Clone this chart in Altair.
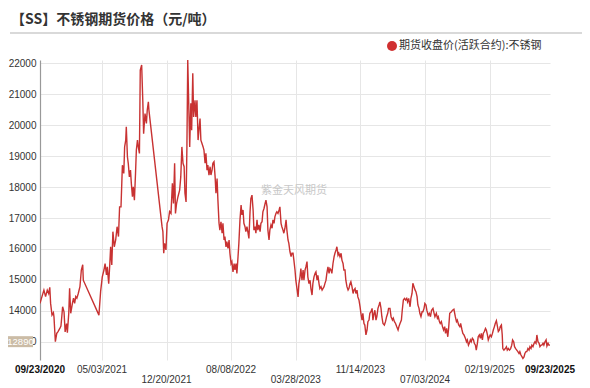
import altair as alt
import pandas as pd

# ---------------- data ----------------
start_date = "2020-09-23"

day_offsets = [
    0, 7, 14, 20, 26, 31, 35, 38, 43, 48, 50, 55, 60, 64, 71, 75, 78, 81, 86, 90,
    95, 98, 103, 106, 110, 116, 120, 124, 128, 132, 137, 143, 148, 153, 155,
    211, 217, 223, 229, 233, 238, 241, 246, 250, 253, 257, 261, 266, 271, 276,
    281, 285, 290, 295, 300, 303, 307, 309, 313, 316, 320, 324, 327, 331, 334,
    338, 342, 345, 349, 352, 356, 359, 364, 368, 371, 376, 381, 384, 388, 390,
    437, 440, 443, 446, 451, 455, 460, 464, 469, 474, 478, 482, 485, 489, 494,
    500, 504, 508, 512, 516, 519, 523, 526, 529,
    536, 540, 543, 547, 550, 555, 558, 562, 566, 569,
    573, 576, 580, 584, 587, 591, 594, 598, 601, 605,
    609, 612, 616, 619, 623, 627, 630, 634, 637, 641,
    644, 648, 652, 655, 659, 662, 666, 669, 673, 677,
    680, 684, 687, 691, 695, 698, 702, 705, 709, 712,
    716, 720, 723, 727, 730, 734, 737, 741, 745, 748,
    752, 755, 759, 763, 766, 770, 773, 777, 780, 784,
    788, 791, 795, 798, 802, 806, 809, 813, 816, 820,
    823, 827, 831, 834, 838, 841, 845, 848, 852, 856,
    859, 863, 866, 870, 873, 877, 881, 884, 888, 891,
    895, 899, 902, 906, 909, 913, 916, 920, 924, 927,
    931, 934, 938, 942, 945, 949, 952, 956, 959, 963,
    967, 970, 974, 977, 981, 985, 988, 992, 995, 999,
    1002, 1006, 1010, 1013, 1017, 1020, 1024, 1027, 1031, 1035,
    1038, 1042, 1045, 1049, 1053, 1056, 1060, 1063, 1067, 1070,
    1074, 1078, 1081, 1085, 1088, 1092, 1095, 1099, 1103, 1106,
    1110, 1113, 1117, 1121, 1124, 1128, 1131, 1135, 1138, 1142,
    1146, 1149, 1153, 1156, 1160, 1163, 1167, 1171, 1174, 1178,
    1181,
    1185, 1189, 1192, 1196, 1199, 1203, 1206, 1210, 1214, 1217,
    1221, 1224, 1228, 1233, 1237, 1241, 1245, 1248, 1253, 1257,
    1262, 1265, 1269, 1273, 1277, 1282, 1285, 1289, 1294, 1297,
    1301, 1305, 1309, 1313, 1316, 1320, 1325, 1328, 1332, 1335,
    1339, 1343, 1346, 1350, 1353, 1357, 1360, 1364, 1368, 1371,
    1375, 1378, 1382, 1385, 1390, 1394, 1398, 1402, 1407, 1411,
    1414, 1419, 1423, 1426, 1430, 1433, 1437, 1441, 1445, 1449,
    1452, 1456, 1460, 1463, 1467,
    1473, 1477, 1482, 1487, 1491, 1494, 1499, 1503, 1506, 1511,
    1514, 1518, 1523, 1527, 1530, 1534, 1537, 1541, 1544, 1548,
    1552, 1555, 1559, 1562, 1566, 1569, 1573, 1577, 1580, 1584,
    1587, 1591, 1595, 1598, 1602, 1605, 1609, 1612, 1616, 1620,
    1623, 1627, 1630, 1634, 1637, 1641, 1645, 1648, 1652, 1655,
    1657, 1661, 1666, 1670, 1673, 1677, 1681, 1685, 1689, 1692,
    1696, 1699, 1703, 1707, 1711, 1715, 1718, 1722, 1726, 1729,
    1733, 1736, 1740, 1743, 1747, 1751, 1754, 1758, 1761, 1765,
    1769, 1772, 1776, 1779, 1783, 1787, 1790, 1794, 1797, 1801,
    1804, 1808, 1812, 1815, 1819, 1822, 1826,
]

close_values = [
    14240, 14460, 14670, 14460, 14670, 14560, 14760, 14240, 13860, 13940,
    13810, 13000, 13270, 13320, 13430, 13510, 13810, 14130, 13970, 13320,
    13590, 13290, 13920, 14730, 13920, 14240, 14410, 14240, 14460, 14410,
    14560, 14780, 15320, 15490, 14990,
    13860, 14620, 15100, 15320, 15530, 15160, 15420, 14880, 15530, 16070,
    15480, 16560, 16070, 16290, 16720, 16400, 17360, 17360, 18710, 18440,
    19300, 19520, 19950, 18980, 18770, 18330, 18550, 18120, 17690, 18010,
    17580, 18440, 19200, 19520, 19300, 19090, 21780, 21950, 20810, 19730,
    20380, 20060, 20490, 20760, 20490,
    16720, 16560, 15860, 16180, 15970, 16830, 16940, 17210, 17150, 18120,
    17470, 18770, 17150, 17470, 17690, 17900, 18330, 19300, 18770, 18660,
    17800, 17520, 19300, 22110,
    19300, 20710, 19840, 21680, 20270, 20810, 20270, 20810, 19520, 19840,
    20220, 19520, 19410, 19300, 19200, 18770, 19090, 18550, 18710, 18390,
    18660, 18390, 18550, 18770, 18820, 18330, 17800, 18280, 17580, 16830,
    16610, 16880, 16510, 16830, 16290, 16400, 16070, 16240, 16020, 16290,
    15860, 15530, 15590, 15260, 15530, 15320, 15530, 15210, 15750, 16180,
    16940, 17420, 17100, 17260, 16830, 16720, 16560, 16720, 16510, 16340,
    17200, 17630, 17740, 17260, 16610, 16720, 16510, 16940, 16610, 16780,
    16560, 16830, 16880, 17200, 17310, 17470, 17580, 17360, 16610, 16290,
    16610, 16780, 16670, 16940, 16830, 17040, 17150, 17200, 17150, 17260,
    17360, 16830, 16720, 16610, 16510, 16670, 16940, 16610, 16290, 16180,
    15910, 15750, 15860, 15860, 15640, 15320, 14990, 14720, 14450, 14880,
    15100, 15370, 14990, 15320, 14990, 15320, 15420, 15590, 15100, 14880,
    14990, 14720, 14510, 14880, 15100, 15210, 15260, 14990, 15150, 14880,
    14720, 14780, 14670, 14720, 14780, 14880, 14990, 15210, 15420, 15210,
    15370, 15320, 15210, 15530, 15750, 15860, 15970, 16070, 15800, 15860,
    15750, 15860, 15640, 15530, 15320, 15320, 14990, 14780, 14670, 14720,
    14880, 14940, 14780, 14560, 14670, 14720, 14560, 14670, 14450, 14350,
    14130, 13920, 13700, 13920, 13590, 13540, 13220, 13380, 13650, 13700,
    13920,
    13970, 14080, 13700, 13920, 14020, 13700, 13810, 14080, 14190, 14290,
    14080, 13810, 13590, 13540, 13650, 13810, 13920, 14080, 14080, 13810,
    13700, 13760, 13650, 13590, 13490, 13380, 13490, 13590, 13700, 14020,
    14350, 14400, 14350, 14400, 14290, 14400, 14130, 14400, 14560, 14890,
    14780, 14670, 14620, 14460, 14190, 14080, 13920, 13810, 13970, 13970,
    14080, 14240, 14190, 14020, 13860, 13920, 13810, 14020, 14080, 13920,
    13810, 13920, 13760, 13810, 13650, 13590, 13650, 13490, 13380, 13490,
    13270, 13430, 13160, 13430, 13920,
    13970, 14020, 14050, 13810, 13650, 13700, 13540, 13490, 13590, 13380,
    13270, 13220, 13110, 13000, 13060, 12890, 12950, 13060, 13000, 13110,
    13060, 12950, 12890, 12730, 12950, 13160, 13220, 13110, 13270, 13060,
    13270, 13330, 13430, 13380, 13220, 13060, 13160, 13220, 13160, 13270,
    13380, 13490, 13590, 13680, 13540, 13330, 13380, 13490, 13540, 13220,
    12780, 12730, 12780, 12840, 12730, 12780, 12730, 12780, 12890, 13060,
    13000, 12840, 12780, 12730, 12680, 12620, 12680, 12570, 12510, 12460,
    12510, 12620, 12680, 12680, 12780, 12730, 12840, 12780, 12890, 12840,
    12950, 13000, 12950, 13220, 13000, 12950, 12840, 12890, 12890, 12950,
    12890, 13000, 13060, 12860, 12950, 12890, 12890,
]

tick_dates = ["2020-09-23", "2021-05-03", "2021-12-20", "2022-08-08", "2023-03-28",
              "2023-11-14", "2024-07-03", "2025-02-19", "2025-09-23"]
tick_labels = ["09/23/2020", "05/03/2021", "12/20/2021", "08/08/2022", "03/28/2023",
               "11/14/2023", "07/03/2024", "02/19/2025", "09/23/2025"]
tick_rows = [1, 1, 2, 1, 2, 1, 2, 1, 1]
tick_bold = [True, False, False, False, False, False, False, False, True]

y_ticks = [13000, 14000, 15000, 16000, 17000, 18000, 19000, 20000, 21000, 22000]
y_domain = [12410, 22110]

title_text = "【SS】不锈钢期货价格（元/吨）"
series_name = "期货收盘价(活跃合约):不锈钢"
watermark_text = "紫金天风期货"
last_value_label = "12890"

# ---------------- tables ----------------
dates = pd.Timestamp(start_date) + pd.to_timedelta(day_offsets, unit="D")
df = pd.DataFrame({"date": dates, "value": close_values})

tick_ts = pd.to_datetime(tick_dates)
df_ticks = pd.DataFrame({"date": tick_ts, "label": tick_labels,
                         "row": tick_rows, "bold": tick_bold})
df_last = df.tail(1).assign(label=last_value_label)
df_one = pd.DataFrame({"title": [title_text], "series": [series_name],
                       "wm": [watermark_text]})

RED = "#c83232"
CJK = "Noto Sans CJK SC"
LAT = "Liberation Sans"

x_scale = alt.Scale(domain=[alt.DateTime(year=tick_ts[0].year, month=tick_ts[0].month, date=tick_ts[0].day),
                            alt.DateTime(year=tick_ts[-1].year, month=tick_ts[-1].month, date=tick_ts[-1].day)])
y_scale = alt.Scale(domain=y_domain, nice=False, zero=False)

grid_dates = [alt.DateTime(year=d.year, month=d.month, date=d.day) for d in tick_ts[1:-1]]

line = alt.Chart(df).mark_line(color=RED, strokeWidth=1.4, clip=True).encode(
    x=alt.X("date:T", scale=x_scale,
            axis=alt.Axis(values=grid_dates, tickCount=20, grid=True, gridColor="#e6e6e6",
                          gridWidth=1, labels=False, ticks=False, domain=False, title=None)),
    y=alt.Y("value:Q", scale=y_scale,
            axis=alt.Axis(values=y_ticks, tickCount=20, format="d", labelOverlap=False,
                          grid=True, gridColor="#e6e6e6", gridWidth=1.2,
                          domain=True, domainColor="#999999", domainWidth=1.2,
                          ticks=False, labelFont=LAT, labelFontSize=10,
                          labelColor="#333333", labelPadding=4, title=None)),
)

tick_base = alt.Chart(df_ticks).encode(x=alt.X("date:T", scale=x_scale), text="label:N")
ticks_row1 = tick_base.transform_filter("datum.row == 1 && !datum.bold").mark_text(
    font=LAT, fontSize=10, color="#333333", baseline="middle").encode(y=alt.value(310))
ticks_row2 = tick_base.transform_filter("datum.row == 2").mark_text(
    font=LAT, fontSize=10, color="#333333", baseline="middle").encode(y=alt.value(320))
ticks_bold = tick_base.transform_filter("datum.bold").mark_text(
    font=LAT, fontSize=10, fontWeight="bold", color="#111111", baseline="middle").encode(y=alt.value(310))

title_mark = alt.Chart(df_one).mark_text(
    font=CJK, fontSize=14, fontWeight="bold", color="#333333", align="left", baseline="middle"
).encode(x=alt.value(-29), y=alt.value(-40), text="title:N")

title_rule = alt.Chart(df_one).mark_rule(color="#d9d9d9", strokeWidth=2).encode(
    x=alt.value(-30), x2=alt.value(542), y=alt.value(-27))

legend_dot = alt.Chart(df_one).mark_point(filled=True, shape="circle", size=100,
                                          color="#d03030", opacity=1).encode(
    x=alt.value(352), y=alt.value(-14))
legend_text = alt.Chart(df_one).mark_text(
    font=CJK, fontSize=11, color="#333333", align="left", baseline="middle"
).encode(x=alt.value(359), y=alt.value(-14), text="series:N")

watermark = alt.Chart(df_one).mark_text(
    font=CJK, fontSize=11, color="#c8c8c8", align="center", baseline="middle"
).encode(x=alt.value(254), y=alt.value(131), text="wm:N")

last_box = alt.Chart(df_last).mark_point(
    shape="M-1.14,-0.5L1.14,-0.5L1.14,0.5L-1.14,0.5Z", size=484, filled=True,
    color="#cbbca6", opacity=1, yOffset=-3.5
).encode(x=alt.value(-19.5), y=alt.Y("value:Q", scale=y_scale))
last_text = alt.Chart(df_last).mark_text(
    font=LAT, fontSize=9.5, color="#ffffff", align="center", baseline="middle", yOffset=-3.5
).encode(x=alt.value(-19.5), y=alt.Y("value:Q", scale=y_scale), text="label:N")

chart = alt.layer(
    line, ticks_row1, ticks_row2, ticks_bold, title_rule, title_mark,
    legend_dot, legend_text, watermark, last_box, last_text
).properties(
    width=510, height=300,
    padding={"left": 32, "top": 52, "right": 32, "bottom": 26},
    autosize=alt.AutoSizeParams(type="none"),
    background="white",
).configure_view(stroke=None)

chart.save("out.html", embed_options={"renderer": "svg", "actions": False})
